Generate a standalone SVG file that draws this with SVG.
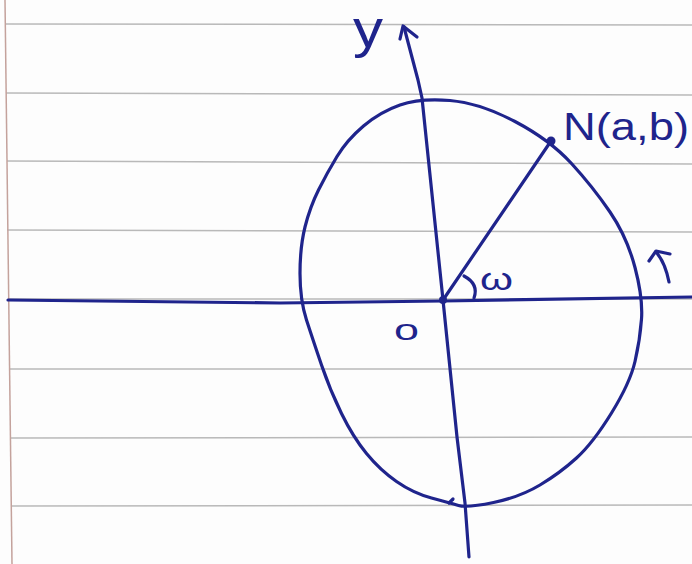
<svg xmlns="http://www.w3.org/2000/svg" width="692" height="564" viewBox="0 0 692 564">
<style>
.rule{stroke:#b9b9b9;stroke-width:1.5;fill:none}
.margin{stroke:#c4a29c;stroke-width:1.5;fill:none}
.ink{stroke:#1f248c;stroke-width:3.2;fill:none;stroke-linecap:round;stroke-linejoin:round}
.lbl{fill:#1f248c;font-family:"Liberation Sans","DejaVu Sans",sans-serif}
</style>
<rect width="692" height="564" fill="#fdfdfd"/>
<g id="paper">
<line class="rule" x1="6" y1="24" x2="692" y2="25"/>
<line class="rule" x1="6" y1="93" x2="692" y2="95"/>
<line class="rule" x1="7" y1="161" x2="692" y2="164"/>
<line class="rule" x1="7" y1="230" x2="692" y2="232"/>
<line class="rule" x1="8" y1="299" x2="692" y2="299"/>
<line class="rule" x1="9" y1="369" x2="692" y2="369"/>
<line class="rule" x1="10" y1="438" x2="692" y2="437"/>
<line class="rule" x1="11" y1="506" x2="692" y2="505"/>
<line class="margin" x1="5" y1="0" x2="12" y2="564"/>
</g>
<g id="connectors">
<path id="x-axis" class="ink" d="M8,300 L280,303 L443,301 L692,297" stroke-width="3.6"/>
<path id="y-axis" class="ink" d="M404,27 L418,80 L422,98 L443,300 L457,437 L465,503 L469,557" stroke-width="3.4"/>
<path id="y-arrowhead" class="ink" d="M400,39 L403,26 L417,37"/>
<path id="radius" class="ink" d="M443,300 L551,141"/>
<path id="angle-arc" class="ink" d="M464,276 Q479,284 474,298" stroke-width="2.6"/>
<path id="rotation-arrow" class="ink" d="M669,282 Q665,262 656,252 M649,261 L656,251 L670,254" stroke-width="2.6"/>
</g>
<g id="circle">
<path class="ink" d="M450,100.5 Q480,103 515,121.5 Q550,140 571.5,163.5 Q593,187 610,212 Q627,237 635,267.5 Q643,298 641.5,319 Q640,340 635,361.5 Q630,383 611.5,413 Q593,443 576.5,458 Q560,473 540,485 Q520,497 493.5,502.5 Q467,508 458.5,505.5 Q450,503 431.5,498 Q413,493 396.5,481.5 Q380,470 366.5,453.5 Q353,437 341.5,413.5 Q330,390 321.5,365 Q313,340 306.5,320 Q300,300 300,273.5 Q300,247 305,227 Q310,207 318.5,190 Q327,173 337,156.5 Q347,140 363.5,126 Q380,112 400,105 Q420,98 450,100.5 Z"/>
<path class="ink" d="M449,503 l4,-4" stroke-width="2.4"/>
</g>
<g id="origin">
<circle cx="443" cy="300" r="4" fill="#1f248c"/>
<text class="lbl" x="394" y="340" font-size="30" textLength="25" lengthAdjust="spacingAndGlyphs">o</text>
</g>
<g id="point-N">
<circle cx="551" cy="141" r="4.5" fill="#1f248c"/>
<text class="lbl" x="563" y="140" font-size="38" textLength="126" lengthAdjust="spacingAndGlyphs">N(a,b)</text>
</g>
<g id="label-y">
<text class="lbl" x="353" y="47" font-size="51" textLength="30" lengthAdjust="spacingAndGlyphs">y</text>
</g>
<g id="label-omega">
<text class="lbl" x="480" y="290" font-size="32" textLength="33" lengthAdjust="spacingAndGlyphs">ω</text>
</g>
</svg>
